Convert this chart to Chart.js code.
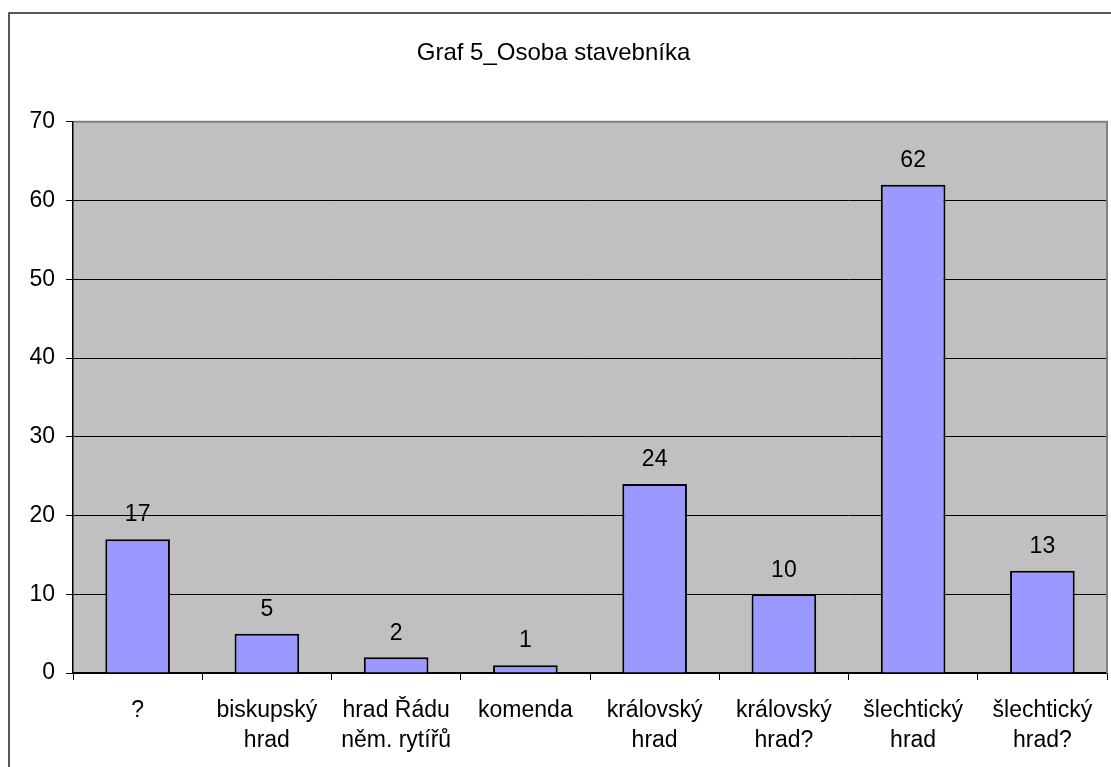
<!DOCTYPE html>
<html>
<head>
<meta charset="utf-8">
<script src="https://cdn.jsdelivr.net/npm/chart.js@4/dist/chart.umd.min.js"></script>
<style>
  html, body { margin: 0; padding: 0; background: #fff; }
  #wrap { width: 1111px; height: 767px; }
</style>
</head>
<body>
<div id="wrap"><canvas id="chart" width="1111" height="767"></canvas></div>
<script>
const categories = [
  "?",
  ["biskupský", "hrad"],
  ["hrad Řádu", "něm. rytířů"],
  "komenda",
  ["královský", "hrad"],
  ["královský", "hrad?"],
  ["šlechtický", "hrad"],
  ["šlechtický", "hrad?"]
];
const counts = [17, 5, 2, 1, 24, 10, 62, 13];
const yTicks = [0, 10, 20, 30, 40, 50, 60, 70];

const FONT = "'Liberation Sans', Arial, sans-serif";

// grey plot area, outer frame and value labels
const decor = {
  id: "decor",
  beforeDraw(chart) {
    const { ctx, chartArea: a } = chart;
    ctx.save();
    ctx.fillStyle = "#c0c0c0";
    ctx.fillRect(a.left, a.top, a.right - a.left, a.bottom - a.top);
    ctx.strokeStyle = "#222";
    ctx.lineWidth = 1.5;
    ctx.strokeRect(9, 13, 1300, 900);
    ctx.restore();
  },
  afterDraw(chart) {
    const { ctx, chartArea: a } = chart;
    ctx.save();
    ctx.strokeStyle = "#808080";
    ctx.lineWidth = 2;
    ctx.beginPath();
    ctx.moveTo(a.left + 1, a.top);
    ctx.lineTo(a.right, a.top);
    ctx.lineTo(a.right, a.bottom);
    ctx.stroke();
    ctx.restore();
  },
  afterDatasetsDraw(chart) {
    const { ctx } = chart;
    const meta = chart.getDatasetMeta(0);
    ctx.save();
    ctx.fillStyle = "#000";
    ctx.font = "23px " + FONT;
    ctx.textAlign = "center";
    ctx.textBaseline = "middle";
    meta.data.forEach((bar, i) => {
      ctx.fillText(String(counts[i]), bar.x, bar.y - 24);
    });
    ctx.restore();
  }
};

new Chart(document.getElementById("chart"), {
  type: "bar",
  data: {
    labels: categories,
    datasets: [{
      data: counts,
      backgroundColor: "#9999ff",
      borderColor: "#000",
      borderWidth: 2,
      barPercentage: 0.5,
      categoryPercentage: 1
    }]
  },
  options: {
    responsive: false,
    animation: false,
    devicePixelRatio: 1,
    layout: { padding: { left: 0, right: 4, top: 0, bottom: 0 } },
    plugins: {
      legend: { display: false },
      tooltip: { enabled: false },
      title: {
        display: true,
        text: "Graf 5_Osoba stavebníka",
        color: "#000",
        font: { family: FONT, size: 24, weight: "normal", lineHeight: 1.2 },
        padding: { top: 39, bottom: 54 }
      }
    },
    scales: {
      x: {
        grid: { drawOnChartArea: false, drawTicks: true, tickLength: 7, color: "#000", offset: true },
        border: { color: "#000", width: 1.5 },
        ticks: {
          color: "#000",
          font: { family: FONT, size: 23, lineHeight: 1.3 },
          padding: 16,
          maxRotation: 0,
          autoSkip: false
        },
        afterFit(scale) { scale.height = 94; }
      },
      y: {
        min: 0,
        max: 70,
        afterBuildTicks(scale) { scale.ticks = yTicks.map(v => ({ value: v })); },
        grid: { color: "#000", lineWidth: 1, tickLength: 7, drawTicks: true },
        border: { color: "#000", width: 1.5 },
        ticks: {
          color: "#000",
          font: { family: FONT, size: 23 },
          padding: 11
        },
        afterFit(scale) { scale.width = 73; }
      }
    }
  },
  plugins: [decor]
});
</script>
</body>
</html>
